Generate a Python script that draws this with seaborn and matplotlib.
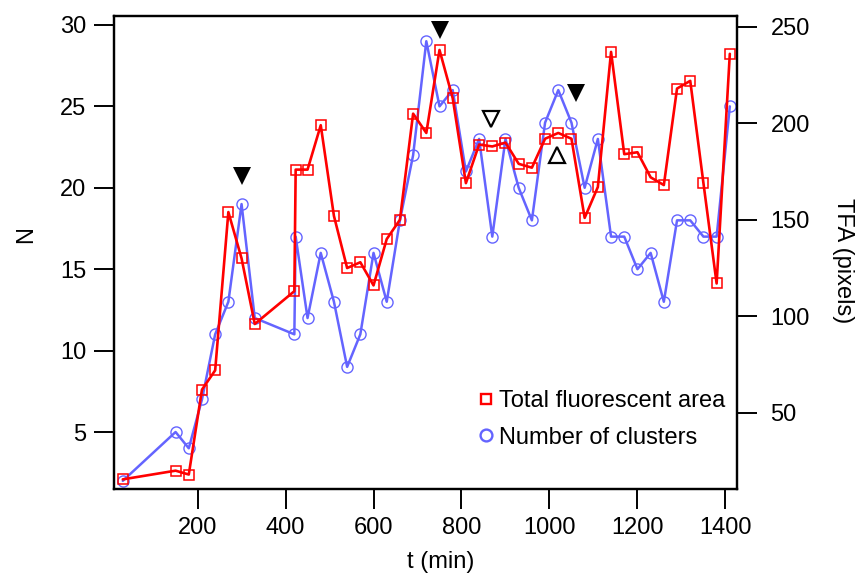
import matplotlib
matplotlib.use("Agg")
import matplotlib.pyplot as plt
import seaborn as sns
from matplotlib.lines import Line2D

# ---- data ----
t_min = [30, 150, 180, 210, 240, 270, 300, 330, 420, 423,
         450, 480, 510, 540, 570, 600, 630, 660, 690, 720,
         750, 780, 810, 840, 870, 900, 930, 960, 990, 1020,
         1050, 1080, 1110, 1140, 1170, 1200, 1230, 1260, 1290, 1320,
         1350, 1380, 1410]
n_clusters = [2, 5, 4, 7, 11, 13, 19, 12, 11, 17,
              12, 16, 13, 9, 11, 16, 13, 18, 22, 29,
              25, 26, 21, 23, 17, 23, 20, 18, 24, 26,
              24, 20, 23, 17, 17, 15, 16, 13, 18, 18,
              17, 17, 25]
tfa_pixels = [15.5, 20, 18, 62, 72, 154, 130, 96, 113, 176,
              176, 199, 152, 125, 128, 116, 140, 150, 205, 195,
              238, 213, 169, 189, 188, 190, 179, 177, 192, 195,
              192, 151, 167, 237, 184, 185, 172, 168, 218, 222,
              169, 117, 236]

# event markers (in N coordinates)
filled_down_t = [300, 751, 1060]
filled_down_n = [20.7, 29.7, 25.8]
open_down_t = [866]
open_down_n = [24.2]
open_up_t = [1017]
open_up_n = [22.0]

x_ticks = [200, 400, 600, 800, 1000, 1200, 1400]
n_ticks = [5, 10, 15, 20, 25, 30]
tfa_ticks = [50, 100, 150, 200, 250]

label_tfa = "Total fluorescent area"
label_n = "Number of clusters"

RED = "#ff0000"
BLUE = "#6464ff"
FS = 17

sns.set_style("white")
plt.rcParams["font.family"] = ["Liberation Sans", "DejaVu Sans"]
plt.rcParams["text.color"] = "black"
plt.rcParams["axes.labelcolor"] = "black"

fig = plt.figure(figsize=(8.59, 5.76), dpi=100)
ax = fig.add_axes([114 / 859, 1 - 489 / 576, (737.3 - 114) / 859, (489 - 16) / 576])
ax2 = ax.twinx()

sns.lineplot(x=t_min, y=n_clusters, ax=ax, color=BLUE, linewidth=1.8,
             marker="o", markersize=8.0, markerfacecolor="none",
             markeredgecolor=BLUE, markeredgewidth=1.0)
sns.lineplot(x=t_min, y=tfa_pixels, ax=ax2, color=RED, linewidth=1.9,
             marker="s", markersize=7.6, markerfacecolor="none",
             markeredgecolor=RED, markeredgewidth=1.1)

ax2.plot(filled_down_t, filled_down_n, linestyle="none", marker="v",
         markersize=12.5, color="black", markeredgewidth=0,
         transform=ax.transData)
ax2.plot(open_down_t, open_down_n, linestyle="none", marker="v",
         markersize=11, markerfacecolor="none", markeredgecolor="black",
         markeredgewidth=1.6, transform=ax.transData)
ax2.plot(open_up_t, open_up_n, linestyle="none", marker="^",
         markersize=11, markerfacecolor="none", markeredgecolor="black",
         markeredgewidth=1.6, transform=ax.transData)

ax.set_xlim(10, 1427)
ax.set_ylim(1.5, 30.55)
ax2.set_ylim(10.5, 255.6)
ax.set_xticks(x_ticks)
ax.set_yticks(n_ticks)
ax2.set_yticks(tfa_ticks)

for a in (ax, ax2):
    for s in a.spines.values():
        s.set_color("black")
        s.set_linewidth(1.6)
    a.grid(False)

ax.tick_params(axis="x", bottom=True, top=False, direction="out", length=14.5,
               width=1.4, labelsize=FS, pad=5.5, colors="black")
ax.tick_params(axis="y", left=True, right=False, direction="out", length=14.5,
               width=1.4, labelsize=FS, pad=5.5, colors="black")
ax2.tick_params(axis="y", right=True, left=False, labelright=True, labelleft=False,
                direction="out", length=14.5, width=1.4, labelsize=FS, pad=9.4,
                colors="black")

ax.set_xlabel("t (min)", fontsize=FS, color="black")
ax.xaxis.set_label_coords(0.5246, -0.132)
ax.set_ylabel("N", fontsize=FS, color="black")
ax.yaxis.set_label_coords(-0.124, 0.537)
ax2.set_ylabel("TFA (pixels)", fontsize=FS, rotation=270, va="bottom", color="black")
ax2.yaxis.set_label_coords(1.152, 0.482)

handles = [
    Line2D([], [], linestyle="none", marker="s", markersize=7.5,
           markerfacecolor="none", markeredgecolor=RED, markeredgewidth=1.7),
    Line2D([], [], linestyle="none", marker="o", markersize=8.5,
           markerfacecolor="none", markeredgecolor=BLUE, markeredgewidth=1.7),
]
leg = fig.legend(handles, [label_tfa, label_n], loc="upper left",
                 bbox_to_anchor=(478.7 / 859, 1 - 390 / 576),
                 bbox_transform=fig.transFigure, frameon=False, fontsize=FS,
                 handlelength=0.6, handletextpad=0.27, borderpad=0,
                 borderaxespad=0, labelspacing=0.62)
for txt in leg.get_texts():
    txt.set_color("black")

fig.savefig("out.png", dpi=100)
